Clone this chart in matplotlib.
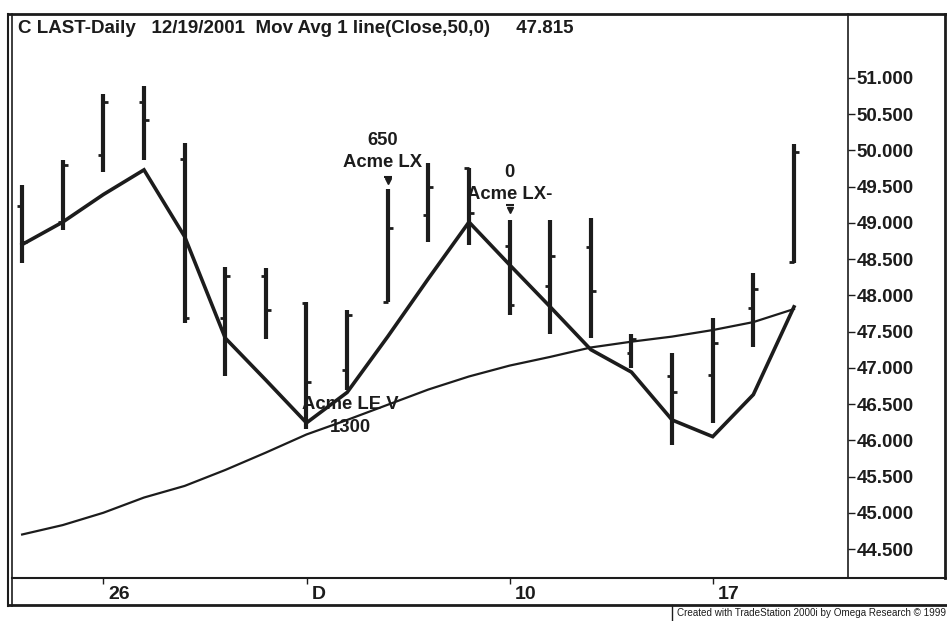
import matplotlib
matplotlib.use('Agg')
import matplotlib.pyplot as plt
import numpy as np
from matplotlib.lines import Line2D

plt.rcParams['font.family'] = ['Liberation Sans', 'DejaVu Sans']

# daily bars, 11/21/2001 .. 12/19/2001
days = ['21', '23', '26', '27', '28', '29', '30', '3', '4', '5',
        '6', '7', '10', '11', '12', '13', '14', '17', '18', '19']
opens = [49.23, 49.01, 49.94, 50.67, 49.88, 47.69, 48.26, 47.90, 46.97, 47.91,
         49.11, 49.75, 48.68, 48.13, 48.66, 47.21, 46.89, 46.90, 47.83, 48.46]
highs = [49.52, 49.86, 50.77, 50.88, 50.10, 48.39, 48.38, 47.91, 47.80, 49.46,
         49.83, 49.76, 49.04, 49.04, 49.06, 47.47, 47.21, 47.69, 48.31, 50.08]
lows = [48.45, 48.90, 49.70, 49.86, 47.62, 46.88, 47.39, 46.15, 46.70, 47.91,
        48.74, 48.70, 47.73, 47.46, 47.41, 47.00, 45.94, 46.24, 47.29, 48.45]
closes = [48.74, 49.80, 50.67, 50.42, 47.69, 48.26, 47.80, 46.81, 47.73, 48.93,
          49.50, 49.14, 47.87, 48.54, 48.06, 47.39, 46.66, 47.34, 48.08, 49.97]

# zigzag line and 50 day moving average
zigzag = [48.70, 49.01, 49.39, 49.73, 48.81, 47.41, 46.83, 46.24, 46.66, 47.43,
          48.23, 49.01, 48.42, 47.84, 47.25, 46.94, 46.28, 46.05, 46.63, 47.84]
ma50 = [44.70, 44.83, 45.00, 45.21, 45.37, 45.59, 45.83, 46.08, 46.28, 46.49,
        46.70, 46.88, 47.03, 47.15, 47.28, 47.36, 47.43, 47.52, 47.63, 47.81]

week_ticks = [2, 7, 12, 17]
week_labels = ['26', 'D', '10', '17']
price_ticks = [44.5, 45.0, 45.5, 46.0, 46.5, 47.0, 47.5, 48.0, 48.5, 49.0, 49.5, 50.0, 50.5, 51.0]

# trade signals: (bar, price of upper text, upper text, lower text)
signals = [(8.88, 50.14, '650', 'Acme LX'),
           (12.0, 49.70, '0', 'Acme LX-'),
           (8.07, 46.49, 'Acme LE V', '1300')]
exit_marks = [(9, 49.57), (12, 49.18)]

W, H = 947, 621
fig = plt.figure(figsize=(W / 100, H / 100), dpi=100)
fig.patch.set_facecolor('white')

def fx(px):
    return px / W

def fy(py):
    return 1 - py / H

ink = '#1c1c1c'
ax = fig.add_axes([fx(14), fy(578), fx(848) - fx(14), fy(14) - fy(578)])
x = np.arange(len(days))

# OHLC bars
ax.vlines(x, lows, highs, color=ink, lw=3.0, capstyle='butt', zorder=3)
ax.hlines(opens, x - 0.12, x, color=ink, lw=2.0, zorder=3)
ax.hlines(closes, x, x + 0.12, color=ink, lw=2.0, zorder=3)

ax.plot(x, zigzag, color=ink, lw=2.6, zorder=4, solid_joinstyle='miter')
ax.plot(x, ma50, color=ink, lw=1.6, zorder=4)

for xs, ys in exit_marks:
    ax.plot(xs, ys, marker='v', ms=4, color=ink, zorder=5)
    ax.plot(xs, ys + 0.06, marker='_', ms=6, mew=1.5, color=ink, zorder=5)

for xs, ys, t1, t2 in signals:
    ax.text(xs, ys, t1, ha='center', va='center', fontsize=13.3,
            fontweight='bold', color=ink, zorder=6)
    ax.text(xs, ys - 0.31, t2, ha='center', va='center', fontsize=13.3,
            fontweight='bold', color=ink, zorder=6)

ax.set_xlim(-0.2, 20.33)
ax.set_ylim(44.10, 51.88)
ax.yaxis.tick_right()
ax.set_yticks(price_ticks)
ax.set_yticklabels(['%.3f' % p for p in price_ticks], fontsize=13.5,
                   fontweight='bold', color=ink)
ax.tick_params(axis='y', direction='out', length=5, width=1, pad=1, colors=ink)
ax.set_xticks(week_ticks)
ax.set_xticklabels([])
ax.tick_params(axis='x', length=0)
for s in ['left', 'top', 'bottom']:
    ax.spines[s].set_visible(False)
ax.spines['right'].set_color(ink)
ax.spines['right'].set_linewidth(1.2)

ax.text(0.005, 0.975, 'C LAST-Daily   12/19/2001  Mov Avg 1 line(Close,50,0)     47.815',
        transform=ax.transAxes, ha='left', va='center', fontsize=13.5,
        fontweight='bold', color=ink)

# date strip under the chart
dx = fig.add_axes([fx(14), fy(604), fx(947) - fx(14), fy(578) - fy(604)])
dx.set_xlim(-0.2, -0.2 + (947 - 14) / 40.63)
dx.set_ylim(0, 1)
dx.axis('off')
for t, lab in zip(week_ticks, week_labels):
    dx.vlines(t, 0.78, 1.0, color=ink, lw=1)
    dx.text(t + 0.12, 0.38, lab, ha='left', va='center', fontsize=14,
            fontweight='bold', color=ink)

# frame lines
def line(x0, y0, x1, y1, lw=1.5):
    fig.add_artist(Line2D([fx(x0), fx(x1)], [fy(y0), fy(y1)], color=ink, lw=lw))

line(8, 14, 947, 14, 2)
line(8, 14, 8, 606, 1.5)
line(12, 14, 12, 606, 1.2)
line(12, 578, 947, 578, 1.5)
line(8, 605, 947, 605, 2)
line(945, 14, 945, 578, 2)
line(672, 605, 672, 621, 1)

fig.text(fx(946), fy(613), 'Created with TradeStation 2000i by Omega Research \u00a9 1999',
         ha='right', va='center', fontsize=7.1, color=ink,
         family=['Liberation Sans Narrow', 'Liberation Sans', 'DejaVu Sans'])

fig.savefig('out.png', dpi=100, facecolor='white')
